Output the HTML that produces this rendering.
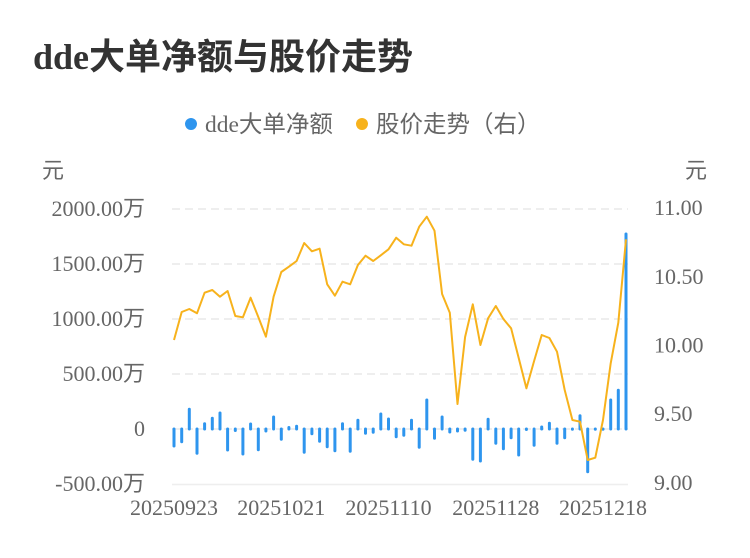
<!DOCTYPE html>
<html><head><meta charset="utf-8"><style>
html,body{margin:0;padding:0;background:#fff;}
svg{display:block;}
text{font-family:"Liberation Serif","Noto Sans CJK SC",serif;}
</style></head><body>
<svg width="750" height="558" viewBox="0 0 750 558" xmlns="http://www.w3.org/2000/svg">
<rect width="750" height="558" fill="#fff"/>
<text x="33" y="69" font-size="36" font-weight="bold" fill="#333">dde大单净额与股价走势</text>
<circle cx="191" cy="124" r="6" fill="#2e95ee"/>
<text x="205" y="132" font-size="23.5" fill="#666">dde大单净额</text>
<circle cx="362" cy="124" r="6" fill="#f7b21c"/>
<text x="376" y="132" font-size="23.5" fill="#666">股价走势（右）</text>
<text x="42" y="178" font-size="22" fill="#666">元</text>
<text x="685" y="178" font-size="22" fill="#666">元</text>
<g stroke="#e9e9e9" stroke-width="1.5" stroke-dasharray="8,5">
<line x1="172" y1="209" x2="628" y2="209"/>
<line x1="172" y1="264" x2="628" y2="264"/>
<line x1="172" y1="319" x2="628" y2="319"/>
<line x1="172" y1="374" x2="628" y2="374"/>
<line x1="172" y1="429" x2="628" y2="429"/>
</g>
<line x1="172" y1="484.5" x2="628" y2="484.5" stroke="#eee" stroke-width="1.5"/>
<g font-size="22" fill="#666" text-anchor="end">
<text x="145" y="216">2000.00万</text>
<text x="145" y="271">1500.00万</text>
<text x="145" y="326">1000.00万</text>
<text x="145" y="381">500.00万</text>
<text x="145" y="436">0</text>
<text x="145" y="491">-500.00万</text>
</g>
<g font-size="22" fill="#666">
<text x="654" y="215">11.00</text>
<text x="654" y="284">10.50</text>
<text x="654" y="352.5">10.00</text>
<text x="654" y="421">9.50</text>
<text x="654" y="490">9.00</text>
</g>
<g font-size="22" fill="#666" text-anchor="middle">
<text x="174" y="515">20250923</text>
<text x="281.3" y="515">20251021</text>
<text x="388.5" y="515">20251110</text>
<text x="495.8" y="515">20251128</text>
<text x="603" y="515">20251218</text>
</g>
<g stroke="#2e95ee" stroke-width="3" stroke-linecap="round">
<line x1="174.0" y1="429" x2="174.0" y2="446"/>
<line x1="181.7" y1="429" x2="181.7" y2="441.7"/>
<line x1="189.3" y1="429" x2="189.3" y2="409.3"/>
<line x1="197.0" y1="429" x2="197.0" y2="453.3"/>
<line x1="204.6" y1="429" x2="204.6" y2="423.7"/>
<line x1="212.3" y1="429" x2="212.3" y2="418.3"/>
<line x1="220.0" y1="429" x2="220.0" y2="413"/>
<line x1="227.6" y1="429" x2="227.6" y2="450"/>
<line x1="235.3" y1="429" x2="235.3" y2="430.5"/>
<line x1="242.9" y1="429" x2="242.9" y2="454"/>
<line x1="250.6" y1="429" x2="250.6" y2="424"/>
<line x1="258.3" y1="429" x2="258.3" y2="449.7"/>
<line x1="265.9" y1="429" x2="265.9" y2="431"/>
<line x1="273.6" y1="429" x2="273.6" y2="417"/>
<line x1="281.3" y1="429" x2="281.3" y2="439.3"/>
<line x1="288.9" y1="429" x2="288.9" y2="427.5"/>
<line x1="296.6" y1="429" x2="296.6" y2="426.3"/>
<line x1="304.2" y1="429" x2="304.2" y2="452.3"/>
<line x1="311.9" y1="429" x2="311.9" y2="433.7"/>
<line x1="319.6" y1="429" x2="319.6" y2="441.3"/>
<line x1="327.2" y1="429" x2="327.2" y2="446.7"/>
<line x1="334.9" y1="429" x2="334.9" y2="450.7"/>
<line x1="342.5" y1="429" x2="342.5" y2="423.7"/>
<line x1="350.2" y1="429" x2="350.2" y2="451.3"/>
<line x1="357.9" y1="429" x2="357.9" y2="420.3"/>
<line x1="365.5" y1="429" x2="365.5" y2="433.3"/>
<line x1="373.2" y1="429" x2="373.2" y2="432.3"/>
<line x1="380.8" y1="429" x2="380.8" y2="414"/>
<line x1="388.5" y1="429" x2="388.5" y2="419"/>
<line x1="396.2" y1="429" x2="396.2" y2="436.7"/>
<line x1="403.8" y1="429" x2="403.8" y2="435.3"/>
<line x1="411.5" y1="429" x2="411.5" y2="420.3"/>
<line x1="419.2" y1="429" x2="419.2" y2="447.3"/>
<line x1="426.8" y1="429" x2="426.8" y2="400"/>
<line x1="434.5" y1="429" x2="434.5" y2="438.3"/>
<line x1="442.1" y1="429" x2="442.1" y2="417"/>
<line x1="449.8" y1="429" x2="449.8" y2="432"/>
<line x1="457.5" y1="429" x2="457.5" y2="431"/>
<line x1="465.1" y1="429" x2="465.1" y2="430.2"/>
<line x1="472.8" y1="429" x2="472.8" y2="459.3"/>
<line x1="480.4" y1="429" x2="480.4" y2="461"/>
<line x1="488.1" y1="429" x2="488.1" y2="419.3"/>
<line x1="495.8" y1="429" x2="495.8" y2="443.3"/>
<line x1="503.4" y1="429" x2="503.4" y2="448.7"/>
<line x1="511.1" y1="429" x2="511.1" y2="437.7"/>
<line x1="518.7" y1="429" x2="518.7" y2="455"/>
<line x1="526.4" y1="429" x2="526.4" y2="429.5"/>
<line x1="534.1" y1="429" x2="534.1" y2="445.3"/>
<line x1="541.7" y1="429" x2="541.7" y2="427"/>
<line x1="549.4" y1="429" x2="549.4" y2="423.3"/>
<line x1="557.0" y1="429" x2="557.0" y2="443.3"/>
<line x1="564.7" y1="429" x2="564.7" y2="437.7"/>
<line x1="572.4" y1="429" x2="572.4" y2="429.3"/>
<line x1="580.0" y1="429" x2="580.0" y2="415.7"/>
<line x1="587.7" y1="429" x2="587.7" y2="471.7"/>
<line x1="595.3" y1="429" x2="595.3" y2="429.3"/>
<line x1="603.0" y1="429" x2="603.0" y2="429.3"/>
<line x1="610.7" y1="429" x2="610.7" y2="400"/>
<line x1="618.3" y1="429" x2="618.3" y2="390.3"/>
<line x1="626.0" y1="429" x2="626.0" y2="234"/>
</g>
<polyline fill="none" stroke="#f7b21c" stroke-width="2" stroke-linejoin="round" points="174.0,340 181.7,312 189.3,309 197.0,313.3 204.6,292.7 212.3,290 220.0,296.7 227.6,291 235.3,316 242.9,317.3 250.6,297.7 258.3,317 265.9,336.7 273.6,296.7 281.3,272 288.9,266.7 296.6,261 304.2,243 311.9,251.3 319.6,248.7 327.2,284.3 334.9,295.7 342.5,281.7 350.2,284.3 357.9,265 365.5,255.7 373.2,261 380.8,255.3 388.5,249.3 396.2,237.7 403.8,244.3 411.5,245.7 419.2,226.7 426.8,216.7 434.5,230.7 442.1,294 449.8,312.7 457.5,404 465.1,337 472.8,304.3 480.4,345 488.1,318.3 495.8,306 503.4,319 511.1,328.3 518.7,358 526.4,388.3 534.1,361 541.7,335 549.4,338 557.0,351.7 564.7,390 572.4,420 580.0,421.7 587.7,460 595.3,457.7 603.0,420 610.7,363.3 618.3,322.7 626.0,239.3"/>
</svg>
</body></html>
